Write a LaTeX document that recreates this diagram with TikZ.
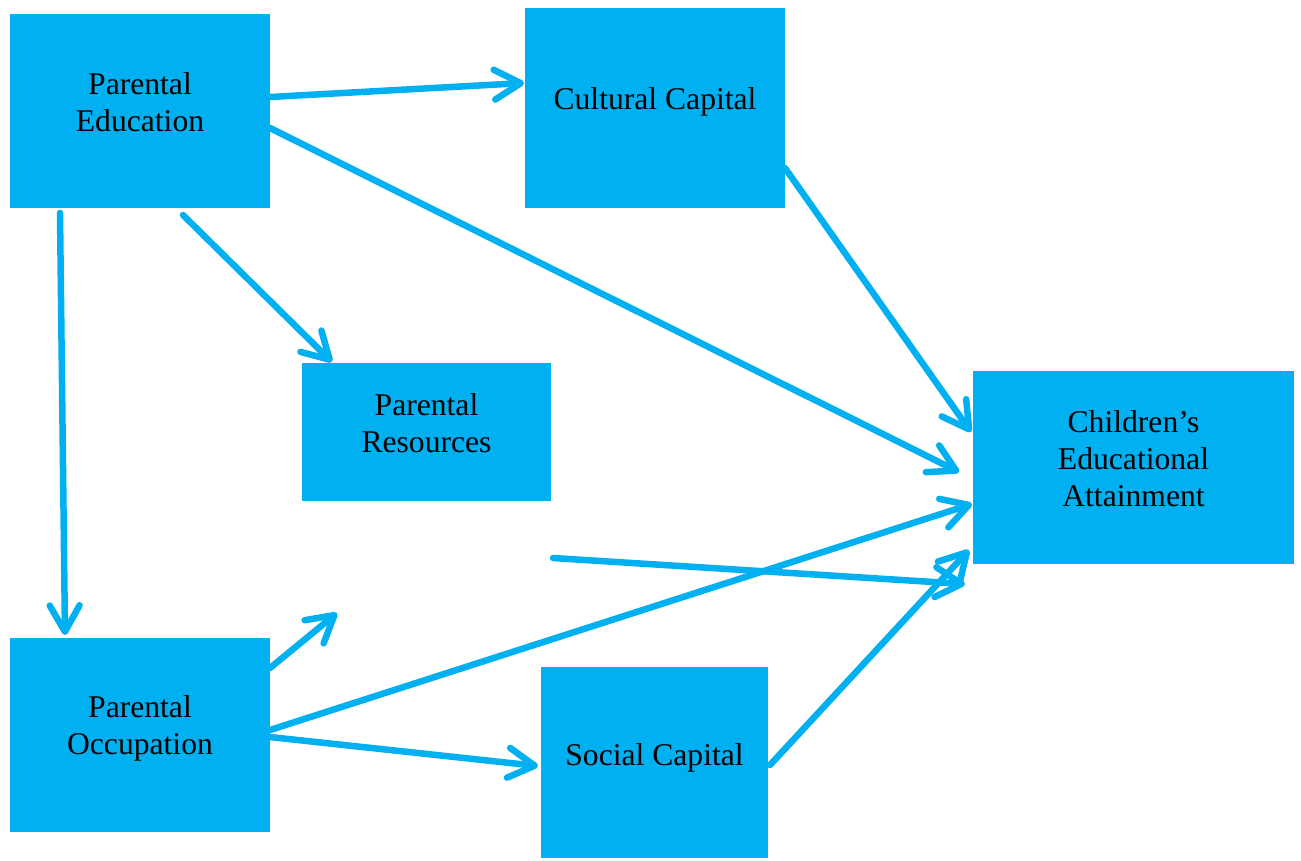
\documentclass[tikz,border=0pt]{standalone}
\usepackage{fontspec}
\setmainfont{Liberation Serif}
\usetikzlibrary{arrows.meta}
\definecolor{sky}{HTML}{00B0F0}
\begin{document}
\begin{tikzpicture}[x=0.02cm,y=-0.02cm,
  box/.style={fill=sky,draw=none,inner sep=0pt},
  lbl/.style={align=center,font=\fontsize{18}{21}\selectfont,yshift=0.12cm},
  arr/.style={draw=sky,line width=3.7pt,line cap=round,line join=round,
    -{Straight Barb[length=15pt,width=17pt,round]}}]
\useasboundingbox (0,0) rectangle (1301,860);
% boxes
\node[box,minimum width=5.2cm,minimum height=3.88cm] (pe) at (140,111) {};
\node[box,minimum width=5.2cm,minimum height=4.0cm] (cc) at (655,108) {};
\node[box,minimum width=4.98cm,minimum height=2.76cm] (pr) at (426.5,432) {};
\node[box,minimum width=6.42cm,minimum height=3.86cm] (ch) at (1133.5,467.5) {};
\node[box,minimum width=5.2cm,minimum height=3.88cm] (po) at (140,735) {};
\node[box,minimum width=4.54cm,minimum height=3.82cm] (sc) at (654.5,762.5) {};
% labels
\node[lbl,yshift=0.05cm] (tpe) at (pe.center) {Parental\\Education};
\node[lbl] (tcc) at (cc.center) {Cultural Capital};
\node[lbl,yshift=0.05cm] (tpr) at (pr.center) {Parental\\Resources};
\node[lbl,yshift=0.06cm] (tch) at (ch.center) {Children’s\\Educational\\Attainment};
\node[lbl,yshift=0.02cm] (tpo) at (po.center) {Parental\\Occupation};
\node[lbl,yshift=-0.03cm] (tsc) at (sc.center) {Social Capital};
% connector end points
\coordinate (a1s) at (270,97);  \coordinate (a1e) at (524,83);
\coordinate (a2s) at (270,128); \coordinate (a2e) at (959,472);
\coordinate (a3s) at (183,215); \coordinate (a3e) at (332,362);
\coordinate (a4s) at (60,213);  \coordinate (a4e) at (65,635);
\coordinate (a5s) at (785,168); \coordinate (a5e) at (971,432);
\coordinate (a6s) at (553,558); \coordinate (a6e) at (965,584);
\coordinate (a7s) at (270,730); \coordinate (a7e) at (972,504);
\coordinate (a8s) at (270,668); \coordinate (a8e) at (337,613);
\coordinate (a9s) at (270,737); \coordinate (a9e) at (538,766);
\coordinate (a10s) at (770,765); \coordinate (a10e) at (969,550);
% connectors
\draw[arr] (a1s) -- (a1e);
\draw[arr] (a2s) -- (a2e);
\draw[arr] (a3s) -- (a3e);
\draw[arr] (a4s) -- (a4e);
\draw[arr] (a5s) -- (a5e);
\draw[arr] (a6s) -- (a6e);
\draw[arr] (a7s) -- (a7e);
\draw[arr] (a8s) -- (a8e);
\draw[arr] (a9s) -- (a9e);
\draw[arr] (a10s) -- (a10e);
\end{tikzpicture}
\end{document}
